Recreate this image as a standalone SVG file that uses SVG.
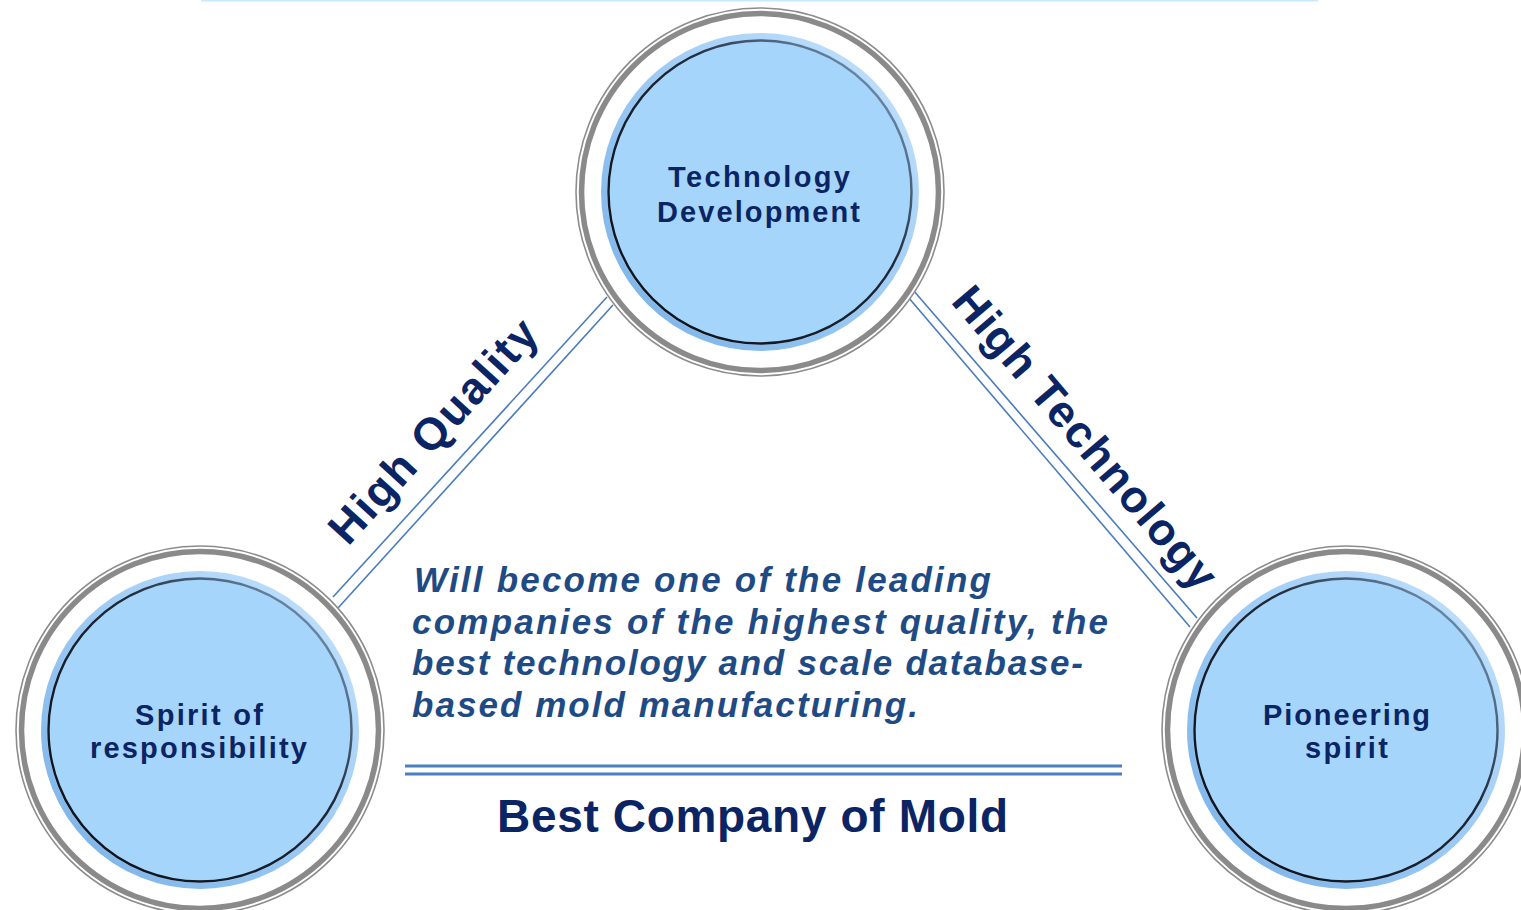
<svg xmlns="http://www.w3.org/2000/svg" xmlns:xlink="http://www.w3.org/1999/xlink" width="1521" height="910" viewBox="0 0 1521 910">
  <style>
    .node-label { font-family: "Liberation Sans", Arial, sans-serif; font-weight: bold; font-size: 29px; fill: #0b2463; }
    .edge-label { font-family: "Liberation Sans", Arial, sans-serif; font-weight: bold; font-size: 45px; fill: #0b2463; }
    .para { font-family: "Liberation Sans", Arial, sans-serif; font-weight: bold; font-style: italic; font-size: 35px; fill: #1f4b85; }
    .title { font-family: "Liberation Sans", Arial, sans-serif; font-weight: bold; font-size: 46px; fill: #0b2463; }
    .conn { stroke: #4a7cbc; stroke-width: 1.6; fill: none; }
    .rule { stroke: #4a7fc0; stroke-width: 3; fill: none; }
  </style>
  <defs>
    <linearGradient id="blueRing" x1="1" y1="0" x2="0" y2="1">
      <stop offset="0" stop-color="#c6e4fd"/>
      <stop offset="0.5" stop-color="#9ccaf4"/>
      <stop offset="1" stop-color="#78b0e6"/>
    </linearGradient>
    <linearGradient id="darkRing" x1="1" y1="0" x2="0" y2="1">
      <stop offset="0" stop-color="#8fb8de"/>
      <stop offset="0.4" stop-color="#1f2838"/>
      <stop offset="1" stop-color="#0a0d14"/>
    </linearGradient>
    <g id="badge">
      <circle r="184" fill="#ffffff" stroke="#8c8c8c" stroke-width="1.6"/>
      <circle r="178.5" fill="none" stroke="#8a8a8a" stroke-width="5.5"/>
      <circle r="158" fill="#a6d5fb"/>
      <circle r="156" fill="none" stroke="url(#blueRing)" stroke-width="6"/>
      <circle r="151.5" fill="none" stroke="url(#darkRing)" stroke-width="2.4"/>
    </g>
  </defs>

  <rect width="1521" height="910" fill="#ffffff"/>
  <line x1="201" y1="0.5" x2="1318" y2="0.5" stroke="#c8e8ff" stroke-width="2"/>

  <g id="connectors">
    <line class="conn" x1="607" y1="297" x2="333" y2="597"/>
    <line class="conn" x1="613" y1="305" x2="338" y2="608"/>
    <line class="conn" x1="913" y1="290" x2="1197" y2="618"/>
    <line class="conn" x1="908" y1="297" x2="1190" y2="627"/>
    <text class="edge-label" transform="translate(348,547) rotate(-47.6)" textLength="286" lengthAdjust="spacing">High Quality</text>
    <text class="edge-label" transform="translate(950,302) rotate(49.7)" textLength="382" lengthAdjust="spacing">High Technology</text>
  </g>

  <g id="node-tech">
    <use xlink:href="#badge" href="#badge" x="760" y="192"/>
    <text class="node-label" x="668" y="187" textLength="182" lengthAdjust="spacing">Technology</text>
    <text class="node-label" x="657" y="222" textLength="203" lengthAdjust="spacing">Development</text>
  </g>

  <g id="node-spirit">
    <use xlink:href="#badge" href="#badge" x="200" y="730"/>
    <text class="node-label" x="135" y="725" textLength="128" lengthAdjust="spacing">Spirit of</text>
    <text class="node-label" x="90" y="758" textLength="217" lengthAdjust="spacing">responsibility</text>
  </g>

  <g id="node-pioneer">
    <use xlink:href="#badge" href="#badge" x="1346" y="730"/>
    <text class="node-label" x="1263" y="725" textLength="167" lengthAdjust="spacing">Pioneering</text>
    <text class="node-label" x="1305" y="758" textLength="83" lengthAdjust="spacing">spirit</text>
  </g>

  <g id="statement">
    <text class="para" x="414" y="592" textLength="577" lengthAdjust="spacing">Will become one of the leading</text>
    <text class="para" x="412" y="634" textLength="696" lengthAdjust="spacing">companies of the highest quality, the</text>
    <text class="para" x="412" y="675" textLength="671" lengthAdjust="spacing">best technology and scale database-</text>
    <text class="para" x="412" y="717" textLength="506" lengthAdjust="spacing">based mold manufacturing.</text>
    <line class="rule" x1="405" y1="766" x2="1122" y2="766"/>
    <line class="rule" x1="405" y1="774" x2="1122" y2="774"/>
    <text class="title" x="497" y="832" textLength="511" lengthAdjust="spacing">Best Company of Mold</text>
  </g>
</svg>
